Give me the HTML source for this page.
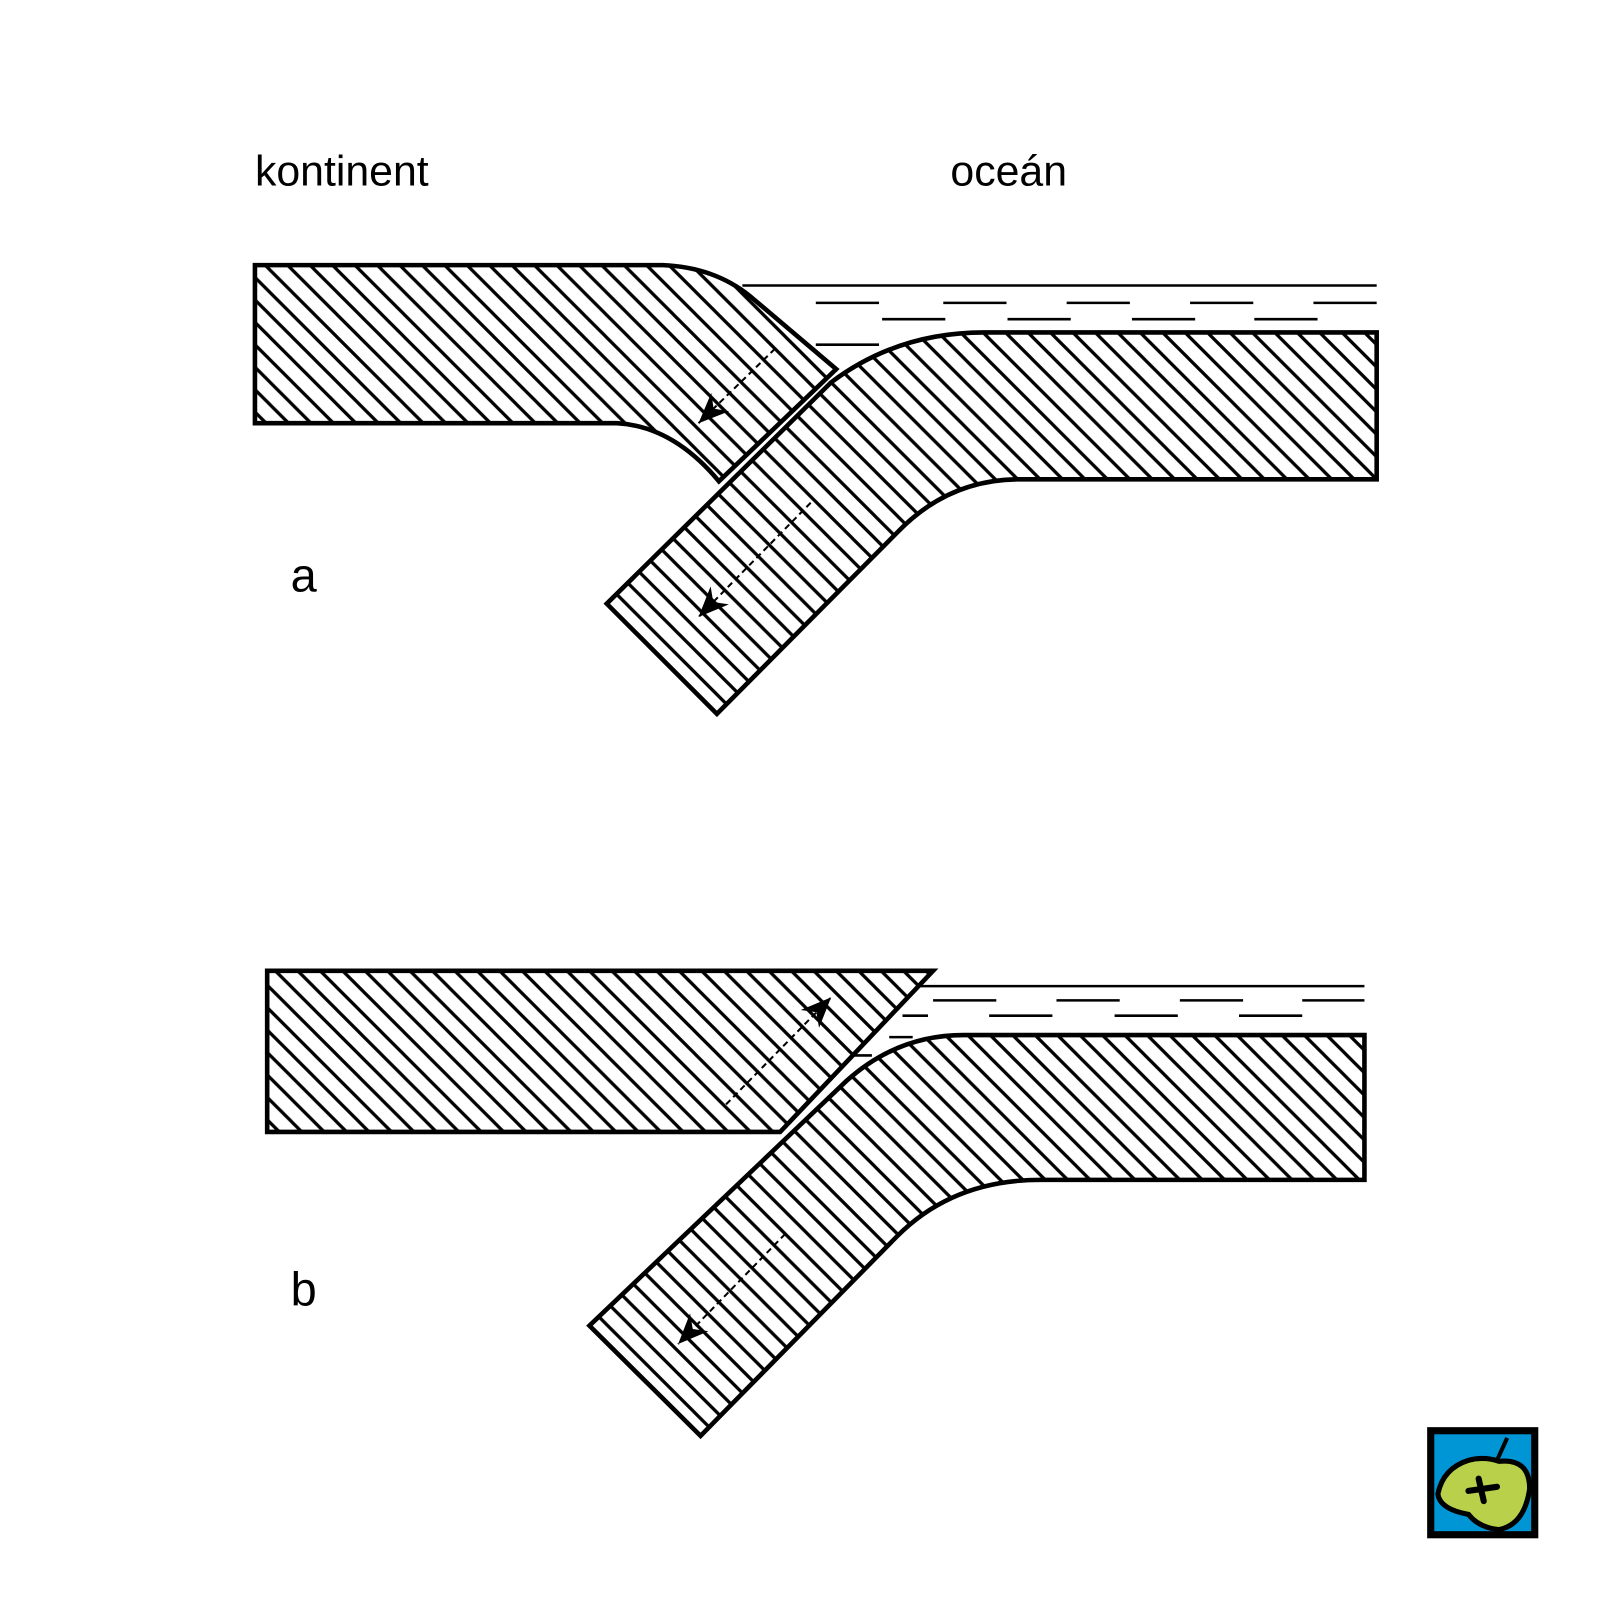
<!DOCTYPE html>
<html><head><meta charset="utf-8"><style>html,body{margin:0;padding:0;background:#fff}svg{display:block}</style></head><body>
<svg width="1600" height="1600" viewBox="0 0 1569 1569" xmlns="http://www.w3.org/2000/svg">
<defs>
<pattern id="diag" patternUnits="userSpaceOnUse" width="22" height="22">
<path d="M-11,-11 L33,33 M-11,11 L11,33 M11,-11 L33,11" stroke="#000" stroke-width="3.2"/>
</pattern>
<marker id="ah" markerUnits="userSpaceOnUse" markerWidth="40" markerHeight="40" refX="0" refY="0" viewBox="-30 -15 35 30" orient="auto">
<path d="M0,0 L-26,-11 L-18,0 L-26,11 Z" fill="#000"/>
</marker>
</defs>
<g font-family="Liberation Sans, sans-serif" fill="#000">
<text x="250" y="182" font-size="42">kontinent</text>
<text x="932" y="182" font-size="42">oceán</text>
<text x="285" y="580" font-size="46">a</text>
<text x="285" y="1280" font-size="46">b</text>
</g>
<g stroke="#000" stroke-width="2.5">
<line x1="728" y1="280" x2="1350" y2="280"/>
<path d="M800,297h62 M925,297h62 M1046,297h62 M1167,297h62 M1288,297h62" />
<path d="M865,313h62 M988,313h62 M1110,313h62 M1230,313h62"/>
<path d="M800,338h62"/>
</g>
<path d="M250,260 L650,260 Q700,262 735,290 L820,362 L705,472 Q660,418 605,415 L250,415 Z" fill="#fff"/>
<path d="M250,260 L650,260 Q700,262 735,290 L820,362 L705,472 Q660,418 605,415 L250,415 Z" fill="url(#diag)" stroke="#000" stroke-width="4.5"/>
<line x1="760" y1="342" x2="685" y2="415" stroke="#000" stroke-width="2" stroke-dasharray="6,4" marker-end="url(#ah)"/>
<path d="M1350,326 L965,326 Q880,326 815,375 L595,592 L703,700 L880,522 Q930,470 1000,470 L1350,470 Z" fill="#fff"/>
<path d="M1350,326 L965,326 Q880,326 815,375 L595,592 L703,700 L880,522 Q930,470 1000,470 L1350,470 Z" fill="url(#diag)" stroke="#000" stroke-width="4.5"/>
<line x1="795" y1="493" x2="685" y2="605" stroke="#000" stroke-width="2" stroke-dasharray="6,4" marker-end="url(#ah)"/>

<g stroke="#000" stroke-width="2.5">
<line x1="900" y1="967" x2="1338" y2="967"/>
<path d="M915,981h62 M1036,981h62 M1157,981h62 M1277,981h61"/>
<path d="M885,996h25 M970,996h62 M1093,996h62 M1215,996h62"/>
<path d="M872,1017h23 M835,1035h20"/>
</g>
<path d="M262,952 L915,952 L765,1110 L262,1110 Z" fill="#fff"/>
<path d="M262,952 L915,952 L765,1110 L262,1110 Z" fill="url(#diag)" stroke="#000" stroke-width="4.5"/>
<line x1="712" y1="1083" x2="815" y2="978" stroke="#000" stroke-width="2" stroke-dasharray="6,4" marker-end="url(#ah)"/>
<path d="M1338,1015 L945,1015 Q880,1015 830,1060 L578,1300 L687,1408 L880,1212 Q935,1157 1020,1157 L1338,1157 Z" fill="#fff"/>
<path d="M1338,1015 L945,1015 Q880,1015 830,1060 L578,1300 L687,1408 L880,1212 Q935,1157 1020,1157 L1338,1157 Z" fill="url(#diag)" stroke="#000" stroke-width="4.5"/>
<line x1="770" y1="1210" x2="665" y2="1318" stroke="#000" stroke-width="2" stroke-dasharray="6,4" marker-end="url(#ah)"/>

<rect x="1403" y="1403" width="102" height="102" fill="#0096d6" stroke="#000" stroke-width="7"/>
<path d="M1470,1433 Q1500,1430 1500,1460 Q1495,1495 1470,1500 Q1450,1498 1440,1485 Q1412,1480 1410,1465 Q1415,1440 1440,1432 Q1455,1428 1470,1433 Z" fill="#b8d04a" stroke="#000" stroke-width="5"/>
<path d="M1468,1432 L1478,1410" stroke="#000" stroke-width="4"/>
<path d="M1450,1450 L1455,1472 M1440,1462 L1468,1458" stroke="#000" stroke-width="6" stroke-linecap="round"/>
</svg>
</body></html>
